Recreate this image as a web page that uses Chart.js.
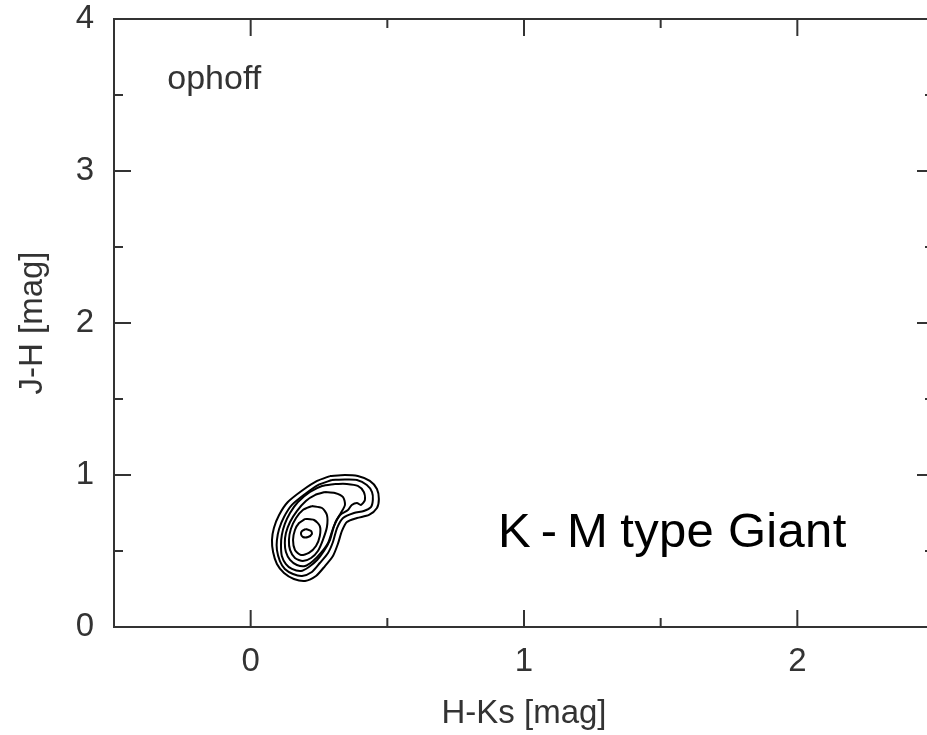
<!DOCTYPE html>
<html>
<head>
<meta charset="utf-8">
<script src="https://cdn.jsdelivr.net/npm/chart.js@4"></script>
<style>
  html, body { margin: 0; padding: 0; background: #fff; overflow: hidden; }
  #wrap { width: 927px; height: 735px; overflow: hidden; }
</style>
</head>
<body>
<div id="wrap"><canvas id="cc" width="945" height="735"></canvas></div>
<script>
// axis ticks
const xTicks = [0, 1, 2];
const xMinor = [0.5, 1.5];
const yTicks = [0, 1, 2, 3, 4];
const yMinor = [0.5, 1.5, 2.5, 3.5];

// contour lines, outermost first: [H-Ks, J-H]
const contour1 = [[0.290,0.993],[0.345,1.000],[0.392,0.993],[0.436,0.961],[0.462,0.908],[0.469,0.842],[0.462,0.783],[0.433,0.737],[0.389,0.717],[0.352,0.691],[0.334,0.632],[0.319,0.546],[0.301,0.467],[0.272,0.401],[0.239,0.336],[0.199,0.303],[0.158,0.316],[0.122,0.355],[0.096,0.414],[0.082,0.493],[0.078,0.572],[0.085,0.651],[0.104,0.737],[0.136,0.822],[0.191,0.901],[0.243,0.961],[0.290,0.993]];
const contour2 = [[0.297,0.967],[0.345,0.970],[0.389,0.967],[0.425,0.934],[0.444,0.888],[0.447,0.836],[0.440,0.789],[0.414,0.763],[0.378,0.750],[0.338,0.717],[0.316,0.651],[0.301,0.559],[0.283,0.487],[0.253,0.421],[0.224,0.362],[0.188,0.336],[0.155,0.349],[0.125,0.382],[0.107,0.434],[0.096,0.507],[0.096,0.572],[0.104,0.645],[0.122,0.724],[0.151,0.803],[0.199,0.875],[0.246,0.934],[0.297,0.967]];
const contour3 = [[0.308,0.941],[0.352,0.941],[0.392,0.928],[0.414,0.888],[0.418,0.836],[0.403,0.803],[0.389,0.816],[0.370,0.803],[0.356,0.770],[0.327,0.737],[0.305,0.664],[0.290,0.572],[0.268,0.500],[0.243,0.441],[0.213,0.395],[0.184,0.368],[0.151,0.382],[0.129,0.414],[0.114,0.467],[0.111,0.539],[0.114,0.605],[0.125,0.678],[0.144,0.750],[0.173,0.822],[0.217,0.888],[0.261,0.928],[0.308,0.941]];
const contour4 = [[0.272,0.888],[0.308,0.882],[0.338,0.855],[0.345,0.803],[0.330,0.750],[0.312,0.697],[0.297,0.625],[0.283,0.553],[0.257,0.487],[0.228,0.434],[0.199,0.401],[0.169,0.408],[0.144,0.441],[0.129,0.493],[0.125,0.553],[0.129,0.618],[0.144,0.691],[0.169,0.763],[0.202,0.829],[0.235,0.868],[0.272,0.888]];
const contour5 = [[0.224,0.796],[0.261,0.783],[0.279,0.737],[0.279,0.658],[0.264,0.572],[0.246,0.500],[0.221,0.454],[0.191,0.434],[0.162,0.454],[0.144,0.507],[0.140,0.572],[0.147,0.645],[0.166,0.717],[0.191,0.770],[0.224,0.796]];
const contour6 = [[0.199,0.711],[0.232,0.704],[0.253,0.664],[0.253,0.599],[0.239,0.533],[0.213,0.487],[0.184,0.474],[0.162,0.507],[0.155,0.572],[0.162,0.638],[0.177,0.684],[0.199,0.711]];
const contour7 = [[0.202,0.645],[0.221,0.632],[0.224,0.612],[0.210,0.592],[0.191,0.592],[0.184,0.612],[0.188,0.632],[0.202,0.645]];

const contours = [contour1, contour2, contour3, contour4, contour5, contour6, contour7];
const axisColor = '#333';
const fontFamily = '"Liberation Sans", Arial, sans-serif';

// frame with inward major/minor ticks on all four sides
const framePlugin = {
    id: 'frame',
    afterDraw(chart) {
        const ctx = chart.ctx;
        const a = chart.chartArea;
        const xs = chart.scales.x, ys = chart.scales.y;
        ctx.save();
        ctx.strokeStyle = axisColor;
        ctx.lineWidth = 2;
        ctx.strokeRect(a.left, a.top, a.right - a.left, a.bottom - a.top);
        const tick = (x1, y1, x2, y2) => { ctx.beginPath(); ctx.moveTo(x1, y1); ctx.lineTo(x2, y2); ctx.stroke(); };
        xTicks.forEach(v => { const p = xs.getPixelForValue(v); tick(p, a.bottom, p, a.bottom - 17); tick(p, a.top, p, a.top + 17); });
        xMinor.forEach(v => { const p = xs.getPixelForValue(v); tick(p, a.bottom, p, a.bottom - 9); tick(p, a.top, p, a.top + 9); });
        yTicks.forEach(v => { const p = ys.getPixelForValue(v); tick(a.left, p, a.left + 17, p); tick(a.right, p, a.right - 17, p); });
        yMinor.forEach(v => { const p = ys.getPixelForValue(v); tick(a.left, p, a.left + 9, p); tick(a.right, p, a.right - 9, p); });

        // annotations
        ctx.fillStyle = '#333';
        ctx.font = '34px ' + fontFamily;
        ctx.textBaseline = 'alphabetic';
        ctx.fillText('ophoff', xs.getPixelForValue(-0.305), ys.getPixelForValue(3.54));
        ctx.fillStyle = '#000';
        ctx.font = '49px ' + fontFamily;
        ctx.letterSpacing = '10px';
        ctx.fillText('K-M', xs.getPixelForValue(0.905), ys.getPixelForValue(0.526));
        ctx.letterSpacing = '0.3px';
        ctx.fillText('type Giant', xs.getPixelForValue(1.352), ys.getPixelForValue(0.526));
        ctx.restore();
    }
};

new Chart(document.getElementById('cc'), {
    type: 'scatter',
    data: {
        datasets: contours.map((c, i) => ({
            label: 'level ' + (i + 1),
            data: c.map(p => ({ x: p[0], y: p[1] })),
            showLine: true,
            borderColor: '#000',
            borderWidth: 2,
            pointRadius: 0,
            tension: 0.25,
            fill: false
        }))
    },
    options: {
        responsive: false,
        animation: false,
        devicePixelRatio: 1,
        layout: { padding: { left: 0, top: 19, right: 11, bottom: 0 } },
        plugins: { legend: { display: false }, tooltip: { enabled: false } },
        scales: {
            x: {
                type: 'linear', min: -0.5, max: 2.5,
                grid: { display: false, drawTicks: false },
                border: { display: false },
                afterBuildTicks: s => { s.ticks = xTicks.map(v => ({ value: v })); },
                afterFit: s => { s.height = 108; s.paddingLeft = 0; s.paddingRight = 0; },
                ticks: { color: '#333', padding: 15, font: { family: fontFamily, size: 33 } },
                title: { display: true, text: 'H-Ks [mag]', color: '#333', padding: { top: 0, bottom: 1 },
                         font: { family: fontFamily, size: 33 } }
            },
            y: {
                type: 'linear', min: 0, max: 4,
                grid: { display: false, drawTicks: false },
                border: { display: false },
                afterBuildTicks: s => { s.ticks = yTicks.map(v => ({ value: v })); },
                afterFit: s => { s.width = 114; s.paddingTop = 0; s.paddingBottom = 0; },
                ticks: { color: '#333', padding: 20, font: { family: fontFamily, size: 33 } },
                title: { display: true, text: 'J-H [mag]', color: '#333', padding: { top: 13, bottom: 0 },
                         font: { family: fontFamily, size: 33 } }
            }
        }
    },
    plugins: [framePlugin]
});
</script>
</body>
</html>
